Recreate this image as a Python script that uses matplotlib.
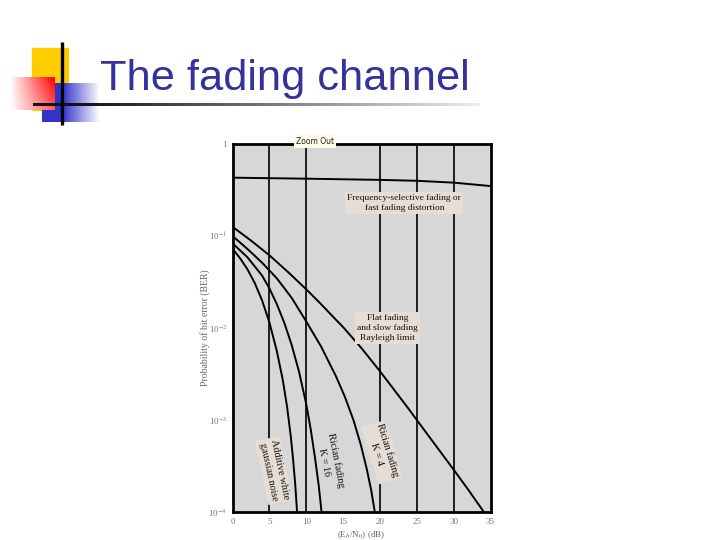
import numpy as np
import matplotlib
matplotlib.use("Agg")
import matplotlib.pyplot as plt

# ---------------- data ----------------
ebno_freqsel = [0, 10, 20, 25, 30, 35]
logber_freqsel = [-0.366, -0.377, -0.39, -0.40, -0.42, -0.457]

ebno_rayleigh = [0, 2.5, 5, 7.5, 10, 12, 13.9, 15, 17.5, 20, 22, 23.9, 25, 27.5, 30, 32, 34.1]
logber_rayleigh = [-0.90, -1.05, -1.21, -1.39, -1.58, -1.74, -1.90, -1.99, -2.22, -2.47, -2.68, -2.88, -3.0, -3.27, -3.54, -3.76, -4.0]

ebno_k4 = [0, 2, 4, 6, 8, 10, 12, 14, 15.2, 16.4, 17.4, 18.2, 18.8, 19.3]
logber_k4 = [-1.0, -1.14, -1.29, -1.46, -1.67, -1.93, -2.2, -2.52, -2.74, -3.0, -3.27, -3.53, -3.76, -4.0]

ebno_k16 = [0, 2, 4, 5, 6, 7, 8, 9, 10, 10.6, 11.2, 11.7, 12.07]
logber_k16 = [-1.08, -1.23, -1.43, -1.57, -1.74, -1.94, -2.18, -2.47, -2.83, -3.1, -3.42, -3.72, -4.0]

ebno_awgn = [0, 1, 2, 3, 4, 5, 6, 6.8, 7.4, 7.9, 8.2, 8.5, 8.75]
logber_awgn = [-1.14, -1.24, -1.36, -1.51, -1.70, -1.94, -2.25, -2.56, -2.86, -3.18, -3.42, -3.7, -4.0]

grid_db = [5, 10, 20, 25, 30]
xtick_vals = [0, 5, 10, 15, 20, 25, 30, 35]
xtick_labels = ["0", "5", "10", "15", "20", "25", "30", "35"]
ytick_vals = [1, 1e-1, 1e-2, 1e-3, 1e-4]
ytick_labels = ["1", r"10$^{-1}$", r"10$^{-2}$", r"10$^{-3}$", r"10$^{-4}$"]

title_text = "The fading channel"

plt.rcParams["mathtext.fontset"] = "stix"

W, H = 720, 540
fig = plt.figure(figsize=(7.2, 5.4), dpi=100)
fig.patch.set_facecolor("white")

# ---------------- decoration overlay (pixel coordinates) ----------------
deco = fig.add_axes([0, 0, 1, 1])
deco.set_xlim(0, W)
deco.set_ylim(H, 0)
deco.axis("off")

# yellow square
deco.add_patch(plt.Rectangle((32, 48), 36, 62, color="#FFCC00", zorder=1))
# blue gradient square (solid left -> white right)
n = 64
blue = np.ones((1, n, 3))
t = np.linspace(0, 1, n)
t = np.clip((t - 0.35) / 0.65, 0, 1)
base_b = np.array([0.2, 0.2, 0.8])
blue[0] = base_b[None, :] * (1 - t[:, None]) + np.array([1, 1, 1])[None, :] * t[:, None]
deco.imshow(blue, extent=(42, 100, 122, 83), aspect="auto", zorder=2, interpolation="bilinear")
# red gradient square (white left -> red right)
red = np.ones((8, n, 3))
tx = np.linspace(0, 1, n)
ty = np.linspace(0, 1, 8)
for i, v in enumerate(ty):
    s = np.clip(tx * (1 - 0.35 * v), 0, 1)
    red[i] = np.array([1, 1, 1])[None, :] * (1 - s[:, None]) + np.array([1, 0, 0])[None, :] * s[:, None]
deco.imshow(red, extent=(10, 55, 110, 77), aspect="auto", zorder=3, interpolation="bilinear")
# gradient horizontal rule
m = 200
line = np.ones((1, m, 3))
tl = np.linspace(0, 1, m)
g = np.clip((tl - 0.12) / 0.88, 0, 1) * 0.85 + 0.08
line[0] = g[:, None]
deco.imshow(line, extent=(33, 480, 106.5, 103.5), aspect="auto", zorder=4, interpolation="bilinear")
# vertical rule
deco.plot([62, 62], [42, 125], color="black", lw=2.4, zorder=5, solid_capstyle="butt")
deco.set_xlim(0, W)
deco.set_ylim(H, 0)

fig.text(100 / W, 1 - 90 / H, title_text, fontsize=31.2, color="#333399",
         family="Liberation Sans", ha="left", va="baseline")

# ---------------- chart ----------------
ax = fig.add_axes([232.6 / W, 1 - 512 / H, (490.5 - 232.6) / W, (512 - 144) / H])
ax.set_facecolor("#d7d7d7")
ax.set_yscale("log")
ax.set_xlim(0, 35)
ax.set_ylim(1e-4, 1)

for gx in grid_db:
    ax.axvline(gx, color="black", lw=1.2, zorder=1)

curve_kw = dict(color="black", lw=1.4, zorder=3)
ax.plot(ebno_freqsel, 10 ** np.array(logber_freqsel), **curve_kw)
ax.plot(ebno_rayleigh, 10 ** np.array(logber_rayleigh), **curve_kw)
ax.plot(ebno_k4, 10 ** np.array(logber_k4), **curve_kw)
ax.plot(ebno_k16, 10 ** np.array(logber_k16), **curve_kw)
ax.plot(ebno_awgn, 10 ** np.array(logber_awgn), **curve_kw)

for sp in ax.spines.values():
    sp.set_linewidth(2.0)
    sp.set_color("black")
    sp.set_zorder(5)

ax.yaxis.set_minor_locator(matplotlib.ticker.NullLocator())
ax.set_xticks(xtick_vals)
ax.set_xticklabels(xtick_labels)
ax.set_yticks(ytick_vals)
ax.set_yticklabels(ytick_labels)
ax.tick_params(length=0, labelsize=6.5, labelcolor="#777777", pad=4)
for lab in ax.get_xticklabels() + ax.get_yticklabels():
    lab.set_family("Liberation Serif")

ax.set_xlabel(r"(E$_b$/N$_0$) (dB)", fontsize=6.5, color="#666666",
              family="Liberation Serif", labelpad=3)
ax.set_ylabel("Probability of bit error (BER)", fontsize=7, color="#666666",
              family="Liberation Serif", labelpad=-1)

box = dict(facecolor="#e6ded4", edgecolor="none", pad=1.5)
txt_kw = dict(family="Liberation Serif", color="#111111", ha="center", va="center",
              linespacing=1.35, zorder=6)
ax.text(23.3, 10 ** -0.64, "Frequency-selective fading or\nfast fading distortion",
        fontsize=6.8, bbox=box, **txt_kw)
ax.text(21.0, 10 ** -2.0, "Flat fading\nand slow fading\nRayleigh limit",
        fontsize=6.8, bbox=box, **txt_kw)
ax.text(5.6, 10 ** -3.55, "Additive white\ngaussian noise", fontsize=7.3,
        rotation=-78, bbox=box, **txt_kw)
ax.text(13.3, 10 ** -3.45, "Rician fading\nK = 16", fontsize=7.3,
        rotation=-79, **txt_kw)
ax.text(20.3, 10 ** -3.35, "Rician fading\nK = 4", fontsize=7.3,
        rotation=-73, bbox=box, **txt_kw)

fig.text(315 / W, 1 - 141 / H, "Zoom Out", fontsize=5.5, color="#222222",
         family="DejaVu Sans", ha="center", va="center",
         bbox=dict(facecolor="#fffbe8", edgecolor="none", pad=1.5))

fig.savefig("out.png", dpi=100, facecolor="white")
